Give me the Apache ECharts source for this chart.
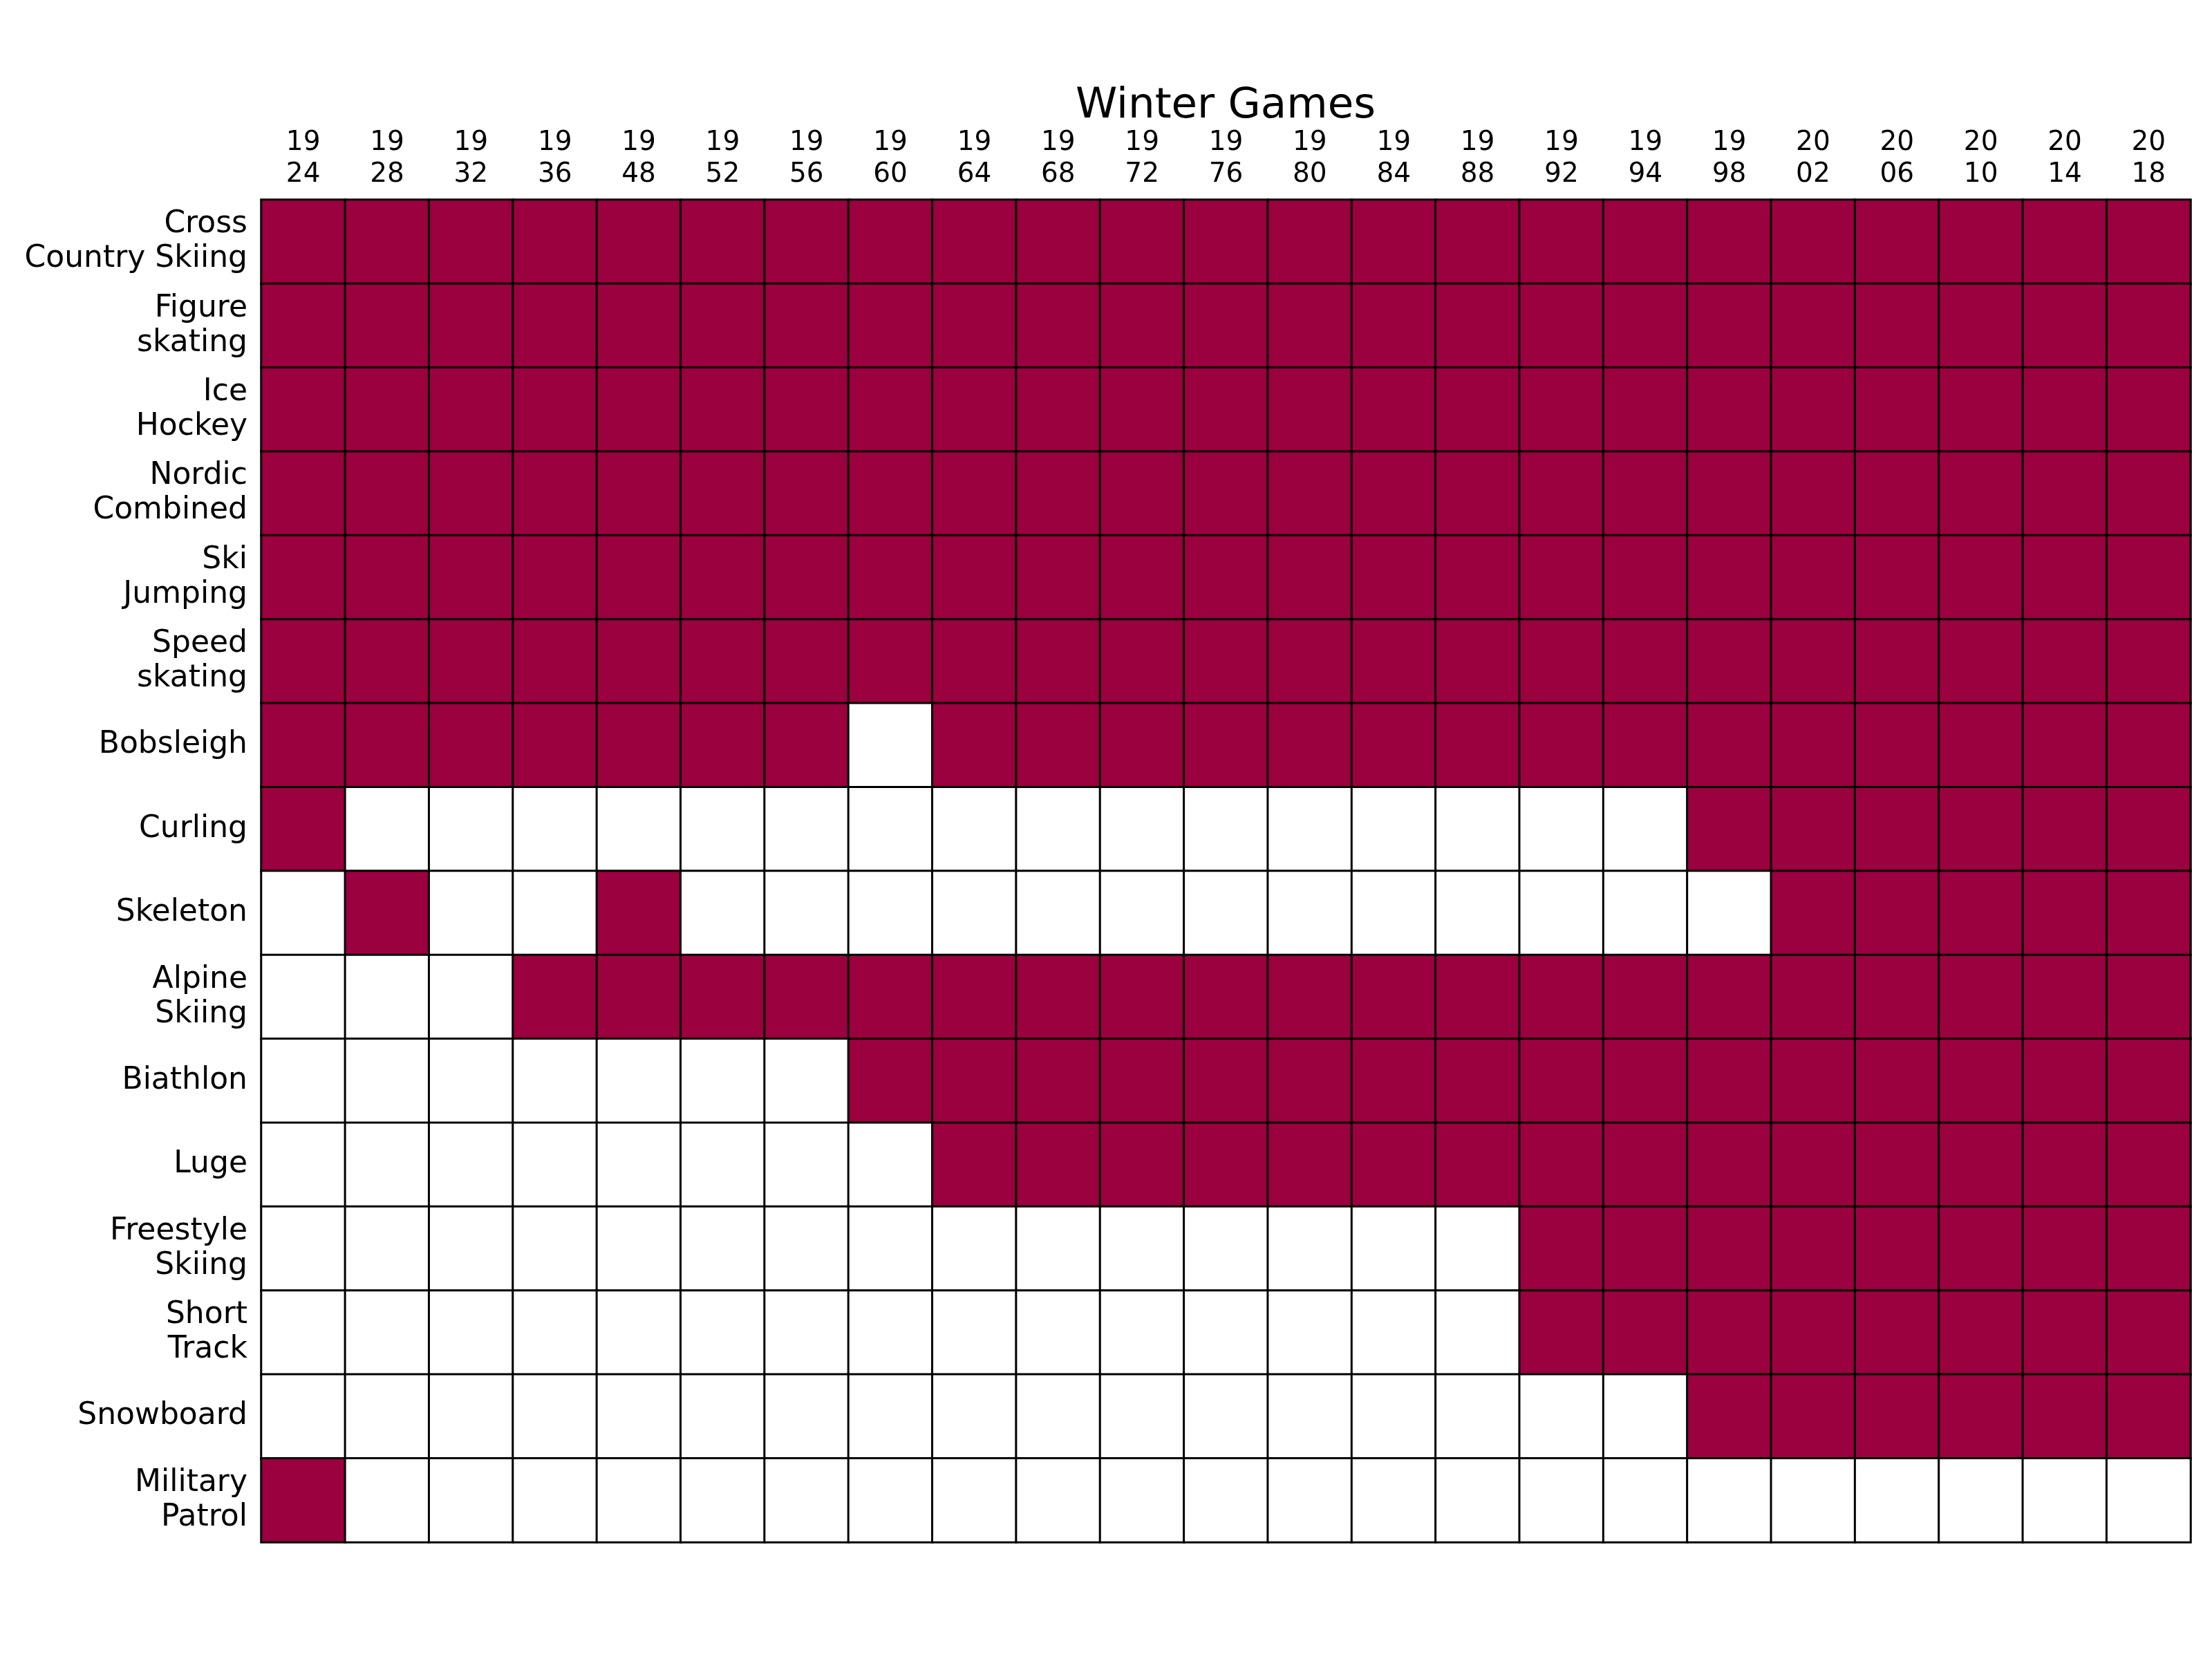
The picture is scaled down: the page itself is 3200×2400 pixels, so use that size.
<!DOCTYPE html>
<html>
<head>
<meta charset="utf-8">
<script src="https://cdn.jsdelivr.net/npm/echarts@6/dist/echarts.min.js"></script>
<style>html,body{margin:0;padding:0;background:#fff}#c{width:3200px;height:2400px}</style>
</head>
<body>
<div id="c"></div>
<script>
const years = ['1924','1928','1932','1936','1948','1952','1956','1960','1964','1968','1972','1976','1980','1984','1988','1992','1994','1998','2002','2006','2010','2014','2018'];
const sports = ['Cross\nCountry Skiing','Figure\nskating','Ice\nHockey','Nordic\nCombined','Ski\nJumping','Speed\nskating','Bobsleigh','Curling','Skeleton','Alpine\nSkiing','Biathlon','Luge','Freestyle\nSkiing','Short\nTrack','Snowboard','Military\nPatrol'];
// 1 = sport held at that Games, 0 = not held (one row per sport, columns follow years)
const crossCountry   = [1,1,1,1,1,1,1,1,1,1,1,1,1,1,1,1,1,1,1,1,1,1,1];
const figureSkating  = [1,1,1,1,1,1,1,1,1,1,1,1,1,1,1,1,1,1,1,1,1,1,1];
const iceHockey      = [1,1,1,1,1,1,1,1,1,1,1,1,1,1,1,1,1,1,1,1,1,1,1];
const nordicCombined = [1,1,1,1,1,1,1,1,1,1,1,1,1,1,1,1,1,1,1,1,1,1,1];
const skiJumping     = [1,1,1,1,1,1,1,1,1,1,1,1,1,1,1,1,1,1,1,1,1,1,1];
const speedSkating   = [1,1,1,1,1,1,1,1,1,1,1,1,1,1,1,1,1,1,1,1,1,1,1];
const bobsleigh      = [1,1,1,1,1,1,1,0,1,1,1,1,1,1,1,1,1,1,1,1,1,1,1];
const curling        = [1,0,0,0,0,0,0,0,0,0,0,0,0,0,0,0,0,1,1,1,1,1,1];
const skeleton       = [0,1,0,0,1,0,0,0,0,0,0,0,0,0,0,0,0,0,1,1,1,1,1];
const alpineSkiing   = [0,0,0,1,1,1,1,1,1,1,1,1,1,1,1,1,1,1,1,1,1,1,1];
const biathlon       = [0,0,0,0,0,0,0,1,1,1,1,1,1,1,1,1,1,1,1,1,1,1,1];
const luge           = [0,0,0,0,0,0,0,0,1,1,1,1,1,1,1,1,1,1,1,1,1,1,1];
const freestyle      = [0,0,0,0,0,0,0,0,0,0,0,0,0,0,0,1,1,1,1,1,1,1,1];
const shortTrack     = [0,0,0,0,0,0,0,0,0,0,0,0,0,0,0,1,1,1,1,1,1,1,1];
const snowboard      = [0,0,0,0,0,0,0,0,0,0,0,0,0,0,0,0,0,1,1,1,1,1,1];
const militaryPatrol = [1,0,0,0,0,0,0,0,0,0,0,0,0,0,0,0,0,0,0,0,0,0,0];
const rows = [crossCountry, figureSkating, iceHockey, nordicCombined, skiJumping, speedSkating, bobsleigh, curling, skeleton, alpineSkiing, biathlon, luge, freestyle, shortTrack, snowboard, militaryPatrol];

const data = [];
rows.forEach((r, yi) => r.forEach((v, xi) => data.push([xi, yi, v])));

const FONT = 'DejaVu Sans';
const chart = echarts.init(document.getElementById('c'), null, {renderer: 'canvas'});
chart.setOption({
  animation: false,
  backgroundColor: '#ffffff',
  title: {
    text: 'Winter Games',
    left: 1773,
    top: 124,
    padding: 0,
    textAlign: 'center',
    textStyle: {fontFamily: FONT, fontSize: 61, fontWeight: 'normal', color: '#000', lineHeight: 61}
  },
  grid: {left: 378, right: 31, top: 289, bottom: 169, containLabel: false},
  xAxis: {
    type: 'category',
    data: years,
    position: 'top',
    axisLine: {show: false},
    axisTick: {show: false},
    splitLine: {show: false},
    axisLabel: {
      interval: 0,
      margin: 13,
      fontFamily: FONT,
      fontSize: 39,
      lineHeight: 46,
      color: '#000',
      formatter: v => v.slice(0, 2) + '\n' + v.slice(2)
    }
  },
  yAxis: {
    type: 'category',
    data: sports,
    inverse: true,
    axisLine: {show: false},
    axisTick: {show: false},
    splitLine: {show: false},
    axisLabel: {
      interval: 0,
      margin: 20,
      fontFamily: FONT,
      fontSize: 44,
      lineHeight: 50,
      color: '#000',
      align: 'right'
    }
  },
  visualMap: {
    show: false,
    type: 'piecewise',
    dimension: 2,
    pieces: [{value: 0, color: '#ffffff'}, {value: 1, color: '#9b003f'}]
  },
  series: [{
    type: 'heatmap',
    data: data,
    itemStyle: {borderColor: '#000', borderWidth: 3},
    emphasis: {disabled: true}
  }]
});
</script>
</body>
</html>
